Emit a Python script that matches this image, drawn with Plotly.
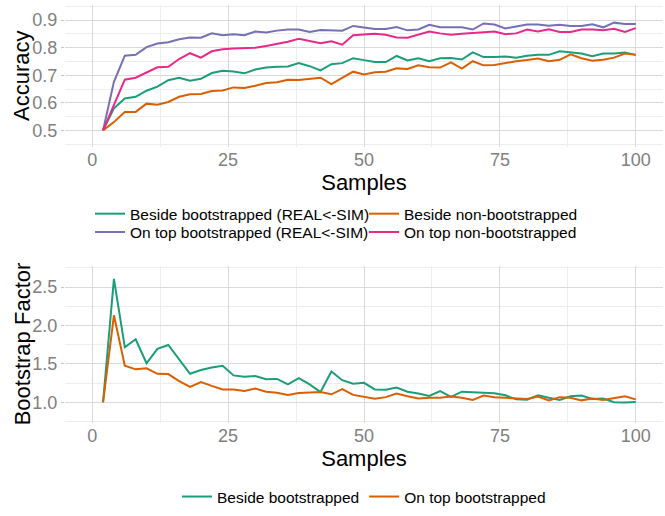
import plotly.graph_objects as go
from plotly.subplots import make_subplots

samples = list(range(2, 101, 2))

beside_boot = [0.500, 0.580, 0.616, 0.622, 0.644, 0.659, 0.682, 0.691, 0.680, 0.687,
               0.708, 0.716, 0.714, 0.707, 0.721, 0.728, 0.731, 0.732, 0.744, 0.733,
               0.718, 0.740, 0.744, 0.762, 0.755, 0.748, 0.748, 0.770, 0.754, 0.762,
               0.751, 0.762, 0.763, 0.757, 0.783, 0.766, 0.766, 0.768, 0.764, 0.771,
               0.774, 0.774, 0.787, 0.784, 0.779, 0.769, 0.779, 0.779, 0.783, 0.774]
beside_nonboot = [0.500, 0.530, 0.567, 0.567, 0.597, 0.593, 0.603, 0.622, 0.631, 0.632,
                  0.643, 0.645, 0.656, 0.654, 0.662, 0.672, 0.675, 0.684, 0.683, 0.687,
                  0.691, 0.668, 0.690, 0.713, 0.703, 0.711, 0.713, 0.725, 0.723, 0.736,
                  0.729, 0.728, 0.747, 0.724, 0.751, 0.736, 0.737, 0.744, 0.751, 0.755,
                  0.761, 0.751, 0.756, 0.776, 0.762, 0.753, 0.756, 0.764, 0.779, 0.774]
ontop_boot = [0.500, 0.676, 0.771, 0.774, 0.802, 0.815, 0.820, 0.831, 0.837, 0.836,
              0.852, 0.845, 0.849, 0.845, 0.859, 0.855, 0.862, 0.866, 0.866, 0.857,
              0.864, 0.864, 0.862, 0.879, 0.874, 0.868, 0.868, 0.875, 0.863, 0.866,
              0.883, 0.874, 0.874, 0.874, 0.866, 0.888, 0.884, 0.870, 0.877, 0.884,
              0.884, 0.880, 0.883, 0.879, 0.879, 0.885, 0.874, 0.891, 0.886, 0.886]
ontop_nonboot = [0.500, 0.590, 0.684, 0.691, 0.710, 0.729, 0.731, 0.759, 0.780, 0.764,
                 0.787, 0.794, 0.797, 0.798, 0.800, 0.806, 0.813, 0.822, 0.832, 0.824,
                 0.816, 0.823, 0.811, 0.845, 0.847, 0.851, 0.847, 0.837, 0.836, 0.847,
                 0.859, 0.852, 0.847, 0.851, 0.854, 0.856, 0.859, 0.849, 0.852, 0.866,
                 0.859, 0.867, 0.857, 0.857, 0.866, 0.866, 0.863, 0.869, 0.857, 0.871]

factor_beside = [1.000, 2.608, 1.717, 1.821, 1.508, 1.696, 1.746, 1.558, 1.371, 1.421,
                 1.454, 1.475, 1.350, 1.333, 1.342, 1.300, 1.304, 1.233, 1.313, 1.233,
                 1.133, 1.400, 1.288, 1.242, 1.254, 1.167, 1.163, 1.192, 1.138, 1.115,
                 1.083, 1.146, 1.071, 1.138, 1.133, 1.129, 1.117, 1.092, 1.038, 1.033,
                 1.092, 1.058, 1.029, 1.079, 1.088, 1.042, 1.050, 1.000, 0.996, 1.004]
factor_ontop = [1.000, 2.133, 1.475, 1.429, 1.442, 1.371, 1.367, 1.275, 1.200, 1.263,
                1.213, 1.167, 1.167, 1.146, 1.179, 1.138, 1.125, 1.096, 1.121, 1.129,
                1.133, 1.104, 1.171, 1.096, 1.071, 1.046, 1.067, 1.113, 1.079, 1.050,
                1.058, 1.058, 1.075, 1.058, 1.029, 1.088, 1.067, 1.058, 1.058, 1.042,
                1.075, 1.025, 1.067, 1.058, 1.025, 1.050, 1.029, 1.058, 1.079, 1.038]

x_ticks = [0, 25, 50, 75, 100]
acc_ticks = [0.5, 0.6, 0.7, 0.8, 0.9]
fac_ticks = [1.0, 1.5, 2.0, 2.5]

GREEN, ORANGE, PURPLE, PINK = "#1b9e77", "#d95f02", "#7570b3", "#e7298a"
FONT = "Liberation Sans, Arial, sans-serif"

fig = make_subplots(rows=2, cols=1)

top = [
    ("Beside bootstrapped (REAL<-SIM)", beside_boot, GREEN, "legend"),
    ("Beside non-bootstrapped", beside_nonboot, ORANGE, "legend"),
    ("On top bootstrapped (REAL<-SIM)", ontop_boot, PURPLE, "legend3"),
    ("On top non-bootstrapped", ontop_nonboot, PINK, "legend3"),
]
for name, vals, col, leg in top:
    fig.add_trace(go.Scatter(x=samples, y=vals, mode="lines", name=name,
                             line=dict(color=col, width=2), legend=leg),
                  row=1, col=1)

bottom = [
    ("Beside bootstrapped", factor_beside, GREEN),
    ("On top bootstrapped", factor_ontop, ORANGE),
]
for name, vals, col in bottom:
    fig.add_trace(go.Scatter(x=samples, y=vals, mode="lines", name=name,
                             line=dict(color=col, width=2), legend="legend2"),
                  row=2, col=1)

H = 516
mt, mb = 5, 78
ph = H - mt - mb

def frac(px):
    return (H - mb - px) / ph

def xfrac(px):
    return (px - 65) / 598

TICKFONT = dict(size=18, color="#808080", family=FONT)
TITLEFONT = dict(size=22, color="black", family=FONT)

xcommon = dict(range=[-5, 105], tickvals=x_ticks, showgrid=True, gridcolor="#d9d9d9",
               gridwidth=1, zeroline=False, showline=False, ticks="",
               tickfont=TICKFONT,
               minor=dict(tickvals=[12.5, 37.5, 62.5, 87.5], showgrid=True,
                          gridcolor="#ededed", gridwidth=0.6),
               title=dict(text="Samples", font=TITLEFONT, standoff=0),
               automargin=False)
ycommon = dict(showgrid=True, gridcolor="#d9d9d9", gridwidth=1, zeroline=False,
               showline=False, ticks="outside", ticklen=3, tickcolor="#c8c8c8",
               tickfont=TICKFONT, automargin=False)

fig.update_xaxes(**xcommon, row=1, col=1)
fig.update_xaxes(**xcommon, row=2, col=1)
fig.update_yaxes(**ycommon, range=[0.44, 0.955], tickvals=acc_ticks,
                 tickformat=".1f",
                 minor=dict(tickvals=[0.45, 0.55, 0.65, 0.75, 0.85, 0.95], showgrid=True,
                            gridcolor="#ededed", gridwidth=0.6, ticks=""),
                 domain=[frac(152), 1.0], row=1, col=1)
fig.update_yaxes(**ycommon, range=[0.73, 2.78], tickvals=fac_ticks,
                 tickformat=".1f",
                 minor=dict(tickvals=[0.75, 1.25, 1.75, 2.25, 2.75], showgrid=True,
                            gridcolor="#ededed", gridwidth=0.6, ticks=""),
                 domain=[0.0, frac(275)], row=2, col=1)

# y-axis titles
for text, ypx in [("Accuracy", 78.5), ("Bootstrap Factor", 356.5)]:
    fig.add_annotation(text=text, textangle=-90, xref="paper", yref="paper",
                       x=xfrac(22), y=frac(ypx), xanchor="center", yanchor="middle",
                       showarrow=False, font=TITLEFONT)

legfont = dict(size=15.5, color="black", family=FONT)
fig.update_layout(
    width=665, height=H,
    margin=dict(l=65, r=2, t=mt, b=mb),
    plot_bgcolor="white", paper_bgcolor="white",
    font=dict(family=FONT),
    legend=dict(orientation="h", x=0.5, xanchor="center", y=frac(204), yanchor="top",
                font=legfont, entrywidth=229, itemwidth=30,
                bgcolor="rgba(0,0,0,0)"),
    legend3=dict(orientation="h", x=0.5, xanchor="center", y=frac(223), yanchor="top",
                 font=legfont, entrywidth=229, itemwidth=30,
                 bgcolor="rgba(0,0,0,0)"),
    legend2=dict(orientation="h", x=0.5, xanchor="center", y=frac(497), yanchor="top",
                 font=legfont, itemwidth=30, bgcolor="rgba(0,0,0,0)"),
)

fig.write_html("out.html")
